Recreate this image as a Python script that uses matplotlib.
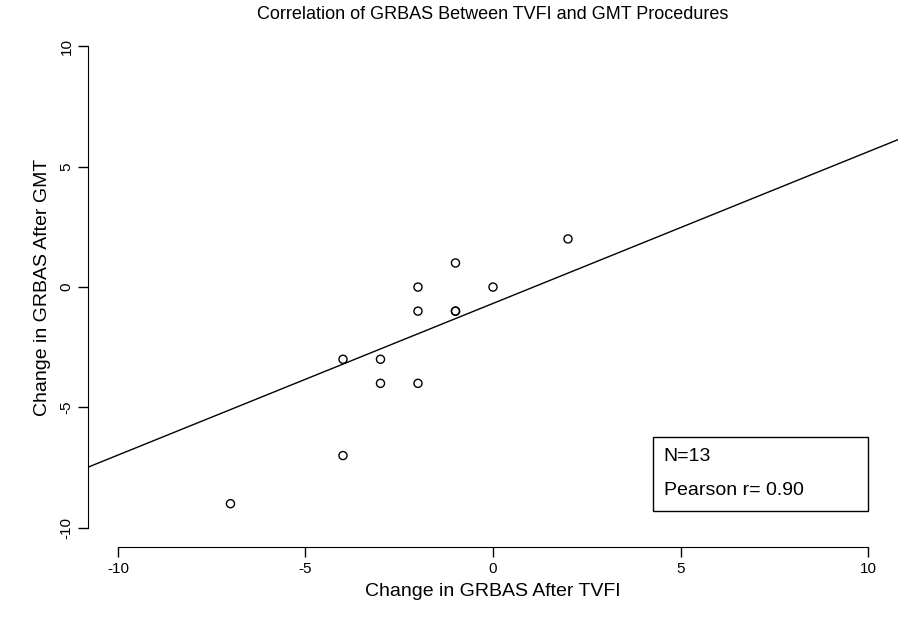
import numpy as np
import matplotlib.pyplot as plt
from matplotlib.patches import Rectangle

plt.rcParams['font.family'] = ['Liberation Sans', 'DejaVu Sans']

# change in GRBAS scores (one pair duplicated, N=13)
tvfi = [-7, -4, -4, -3, -3, -2, -2, -2, -1, -1, -1, 0, 2]
gmt = [-9, -7, -3, -3, -4, -4, -1, 0, 1, -1, -1, 0, 2]
slope = 0.63
intercept = -0.68
ticks = [-10, -5, 0, 5, 10]

fig = plt.figure(figsize=(9.04, 6.3), dpi=100)
ax = fig.add_axes([0.0973, 0.1317, 0.8961, 0.8253])
ax.set_xlim(-10.8, 10.8)
ax.set_ylim(-10.8, 10.8)

ax.scatter(tvfi, gmt, s=34, facecolors='none', edgecolors='black', linewidths=1)
xx = np.array([-10.8, 10.8])
ax.plot(xx, intercept + slope * xx, color='black', lw=1)

for s in ['top', 'right']:
    ax.spines[s].set_visible(False)
ax.spines['bottom'].set_bounds(-10, 10)
ax.spines['left'].set_bounds(-10, 10)
ax.set_xticks(ticks)
ax.set_yticks(ticks)
ax.set_xticklabels([str(t) for t in ticks], fontsize=11)
ax.set_yticklabels([str(t) for t in ticks], fontsize=11, rotation=90, va='center')
ax.tick_params(length=7, width=1)

ax.set_xlabel('Change in GRBAS After TVFI', fontsize=14, labelpad=5)
ax.set_ylabel('Change in GRBAS After GMT', fontsize=14, labelpad=6)
ax.set_title('Correlation of GRBAS Between TVFI and GMT Procedures', fontsize=13, pad=6)

ax.add_patch(Rectangle((4.26, -9.29), 5.74, 3.07, fill=False, edgecolor='black', lw=1))
ax.text(4.55, -7.05, 'N=13', fontsize=14, va='center')
ax.text(4.55, -8.45, 'Pearson r= 0.90', fontsize=14, va='center')

plt.savefig('out.png', dpi=100)
